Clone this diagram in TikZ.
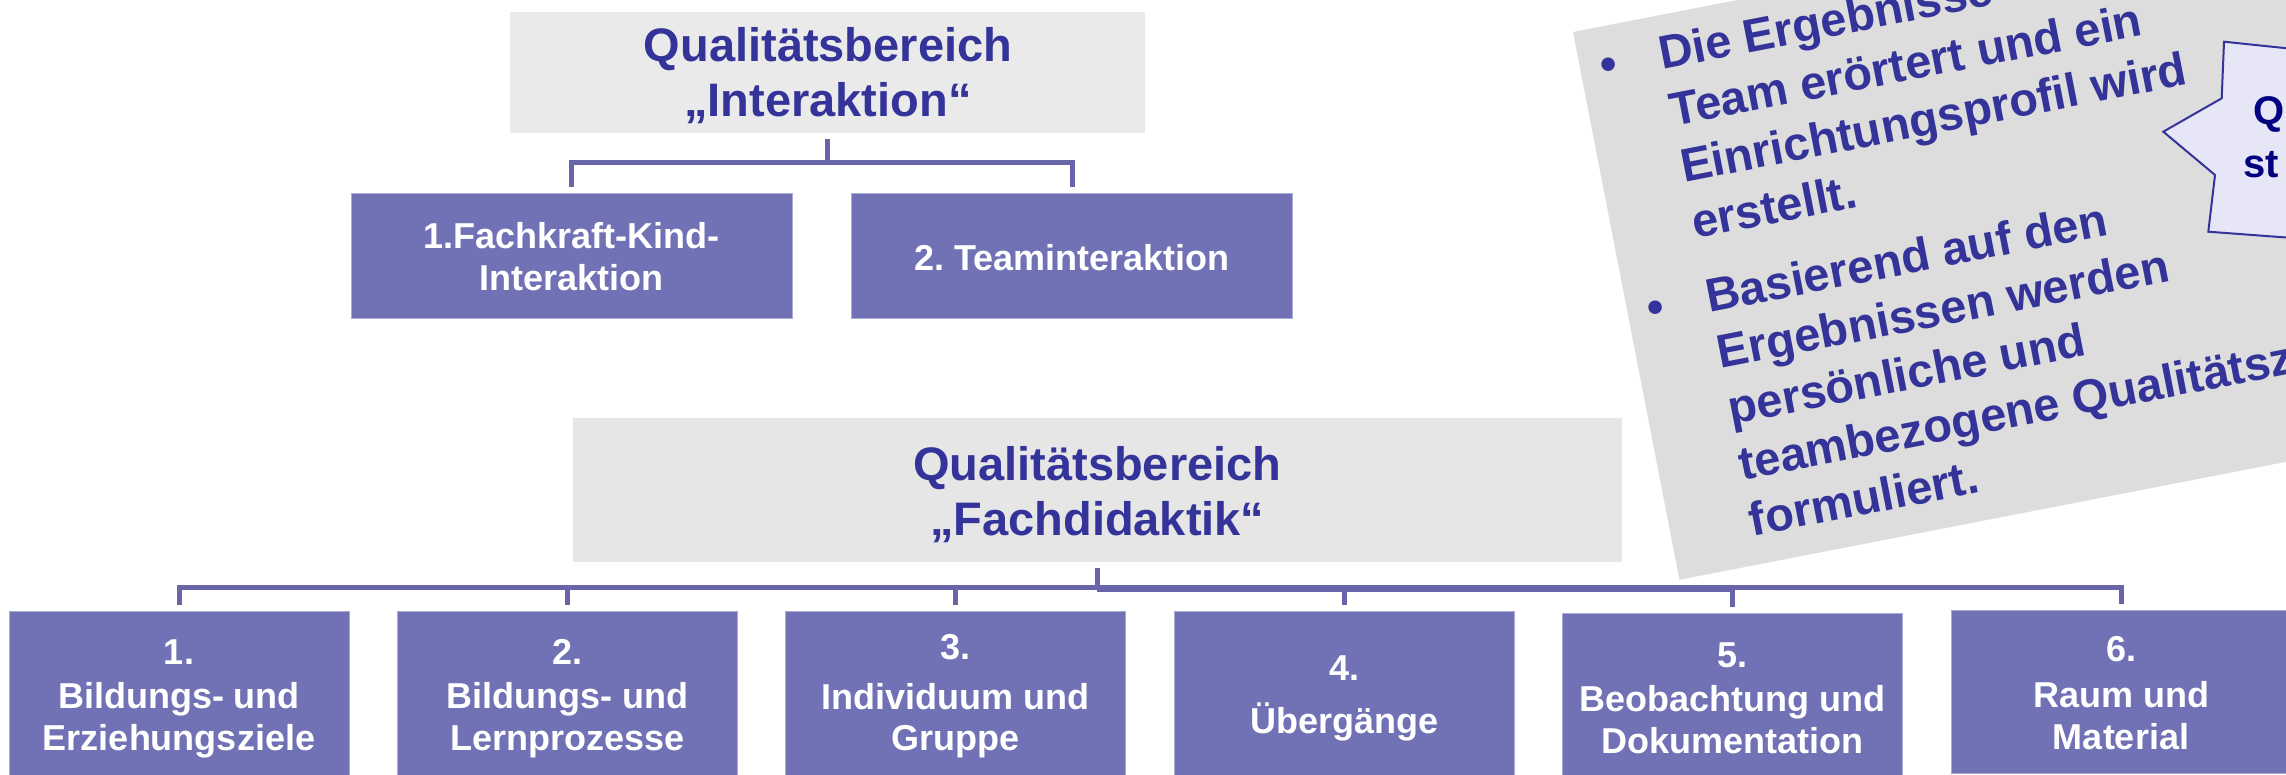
\documentclass[tikz,border=0pt]{standalone}
\usepackage{fontspec}
\setmainfont{Liberation Sans}
\frenchspacing
\definecolor{titleblue}{RGB}{51,51,153}
\definecolor{navytext}{RGB}{0,0,128}
\definecolor{boxfill}{RGB}{113,113,181}
\definecolor{boxedge}{RGB}{170,170,215}
\definecolor{connline}{RGB}{104,102,168}
\definecolor{grayone}{RGB}{234,234,234}
\definecolor{graytwo}{RGB}{230,230,230}
\definecolor{rotgray}{RGB}{221,221,221}
\definecolor{starfill}{RGB}{230,230,246}
\begin{document}
\begin{tikzpicture}[x=0.5pt,y=-0.5pt,
  graybox/.style={rectangle, inner sep=0pt, draw=none},
  bluebox/.style={rectangle, inner sep=0pt, draw=boxedge, line width=0.4pt, fill=boxfill},
  conn/.style={draw=connline, line width=2.5pt, line join=miter},
  titletext/.style={inner sep=0pt, anchor=base, text=titleblue, font=\fontsize{23.5}{27.5}\selectfont\bfseries},
  boxtext/.style={inner sep=0pt, anchor=base, text=white, font=\fontsize{18}{21}\selectfont\bfseries},
  rottext/.style={inner sep=0pt, anchor=base west, text=titleblue, font=\fontsize{23.5}{28.5}\selectfont\bfseries},
  startext/.style={inner sep=0pt, anchor=base west, text=navytext, font=\fontsize{20}{26}\selectfont\bfseries},
  starline/.style={draw=titleblue, line width=1pt, fill=starfill, line join=miter}]
\useasboundingbox (0,0) rectangle (2286,775);
\clip (0,0) rectangle (2286,775);
\fill[white] (0,0) rectangle (2286,775);

% ---------- upper hierarchy ----------
\node[graybox, fill=grayone, minimum width=317.5pt, minimum height=60.5pt] (g1) at (827.5,72.5) {};
\node[bluebox, minimum width=220.5pt, minimum height=62.5pt] (b1) at (571.5,255.5) {};
\node[bluebox, minimum width=220.5pt, minimum height=62.5pt] (b2) at (1072,255.5) {};
\coordinate (busA) at (0,163);
\draw[conn] ([yshift=-3pt]g1.south) -- (g1.south |- busA);
\draw[conn] ([yshift=3pt]b1.north) -- (b1.north |- busA) -- (b2.north |- busA) -- ([yshift=3pt]b2.north);

\node[titletext] (g1a) at (828,61.7) {Qualitätsbereich};
\node[titletext] (g1b) at (828,116.7) {„Interaktion“};
\node[boxtext] (b1a) at (571.5,248.3) {1.Fachkraft-Kind-};
\node[boxtext] (b1b) at (571.5,290.7) {Interaktion};
\node[boxtext] (b2a) at (1072,270.5) {2. Teaminteraktion};

% ---------- lower hierarchy ----------
\node[graybox, fill=graytwo, minimum width=524.35pt, minimum height=72pt] (g2) at (1097.3,490) {};
\node[bluebox, minimum width=170pt, minimum height=83.5pt] (c1) at (179,694.5) {};
\node[bluebox, minimum width=170pt, minimum height=83.5pt] (c2) at (567.4,694.5) {};
\node[bluebox, minimum width=170pt, minimum height=83.5pt] (c3) at (955.8,694.5) {};
\node[bluebox, minimum width=170pt, minimum height=83.5pt] (c4) at (1344.2,694.5) {};
\node[bluebox, minimum width=170pt, minimum height=82.5pt] (c5) at (1732.6,695.5) {};
\node[bluebox, minimum width=170pt, minimum height=81.5pt] (c6) at (2121,692) {};
\coordinate (busB) at (0,587);
\coordinate (busC) at (0,588);
\draw[conn] ([yshift=-3pt]g2.south) -- (g2.south |- busB);
\draw[conn] ([yshift=3pt]c1.north) -- (c1.north |- busB) -- (c6.north |- busB) -- ([yshift=3pt]c6.north);
\draw[conn, line width=3.5pt, line cap=butt] (g2.south |- busC) -- (c5.north |- busC);
\foreach \n in {c2,c3,c4,c5} {\draw[conn] (\n.north |- busB) -- ([yshift=3pt]\n.north);}

\node[titletext] (g2a) at (1097.3,480) {Qualitätsbereich};
\node[titletext] (g2b) at (1097.3,535) {„Fachdidaktik“};

\node[boxtext] (c1a) at (179,664) {1.};
\node[boxtext] (c1b) at (179,708) {Bildungs- und};
\node[boxtext] (c1c) at (179,750) {Erziehungsziele};
\node[boxtext] (c2a) at (567.4,664) {2.};
\node[boxtext] (c2b) at (567.4,708) {Bildungs- und};
\node[boxtext] (c2c) at (567.4,750) {Lernprozesse};
\node[boxtext] (c3a) at (955.8,659) {3.};
\node[boxtext] (c3b) at (955.8,709) {Individuum und};
\node[boxtext] (c3c) at (955.8,750) {Gruppe};
\node[boxtext] (c4a) at (1344.2,680) {4.};
\node[boxtext] (c4b) at (1344.2,733) {Übergänge};
\node[boxtext] (c5a) at (1732.6,667) {5.};
\node[boxtext] (c5b) at (1732.6,711) {Beobachtung und};
\node[boxtext] (c5c) at (1732.6,753) {Dokumentation};
\node[boxtext] (c6a) at (2121,661) {6.};
\node[boxtext] (c6b) at (2121,707) {Raum und};
\node[boxtext] (c6c) at (2121,749) {Material};

% ---------- rotated note ----------
\begin{scope}[shift={(1573,32)}, rotate=11, transform shape]
  \fill[rotgray] (0,0) rectangle (900,558);
  \node[rottext] (k1) at (20,54) {•};
  \node[rottext] (l1) at (80,54) {Die Ergebnisse};
  \node[rottext] (l2) at (80,112) {Team erörtert und ein};
  \node[rottext] (l3) at (80,169) {Einrichtungsprofil wird};
  \node[rottext] (l4) at (80,226) {erstellt.};
  \node[rottext] (k2) at (20,301.5) {•};
  \node[rottext] (l5) at (80,301.5) {Basierend auf den};
  \node[rottext] (l6) at (80,358.5) {Ergebnissen werden};
  \node[rottext] (l7) at (80,415.5) {persönliche und};
  \node[rottext] (l8) at (80,472.5) {teambezogene Qualitätsziele};
  \node[rottext] (l9) at (80,529.5) {formuliert.};
\end{scope}

% ---------- star ----------
\draw[starline] (2224,41.7) -- (2221.7,98.3) -- (2163.3,131.7) -- (2215,175) -- (2208.3,231.7) -- (2360,243) -- (2360,56) -- cycle;
\node[startext] (s1) at (2253,125) {Q};
\node[startext] (s2) at (2243,178) {st};
\end{tikzpicture}
\end{document}
